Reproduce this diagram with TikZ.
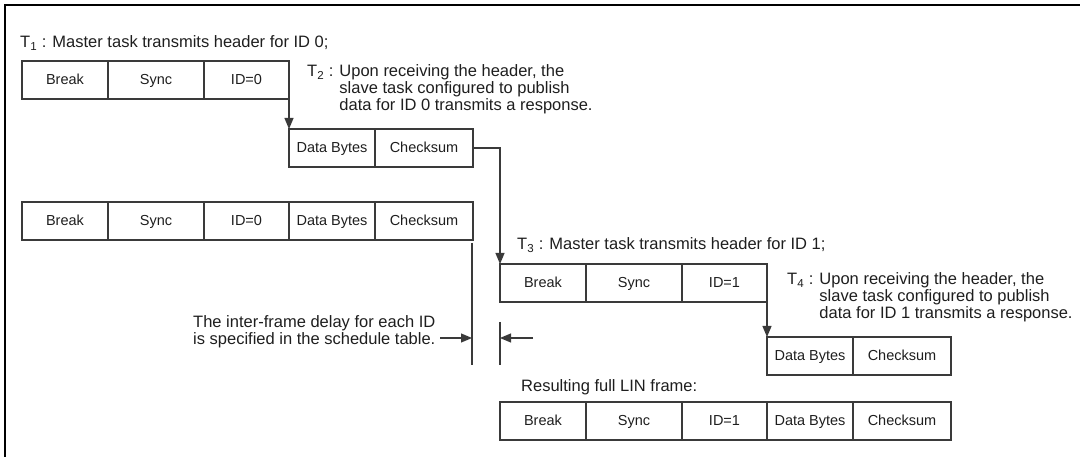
\documentclass[tikz,border=0pt]{standalone}
\usepackage{fontspec}
\setmainfont{Liberation Sans}
\usetikzlibrary{arrows.meta,positioning}
\definecolor{cizgi}{HTML}{3A3A3A}
\definecolor{yazi}{HTML}{1E1E1E}
\newcommand{\buyukYazi}{\fontsize{16.5}{16}\selectfont}
\newcommand{\kucukYazi}{\fontsize{14.5}{15}\selectfont}

\begin{document}
\begin{tikzpicture}[x=1pt,y=-1pt,
  alan/.style={draw=cizgi,line width=1.2pt,minimum height=38pt,inner sep=0pt,outer sep=0pt,
    text height=10.5pt,text depth=2pt,anchor=north west,font=\kucukYazi,text=yazi},
  aciklama/.style={anchor=base west,inner sep=0pt,font=\buyukYazi,text=yazi},
  ok/.style={draw=cizgi,line width=1.2pt,-{Triangle[length=11pt,width=9pt]}}]
\useasboundingbox (0,0) rectangle (1080,457);
% cerceve
\draw[line width=2.4pt] (5,457) -- (5,5) -- (1080,5);
% ID 0 baslik
\node[aciklama] (t1) at (20,48) {T\textsubscript{1} : Master task transmits header for ID 0;};
\node[alan,minimum width=86pt] (brk0) at (22,61) {Break};
\node[alan,minimum width=96pt,right=0pt of brk0] (syn0) {Sync};
\node[alan,minimum width=85pt,right=0pt of syn0] (id0) {ID=0};
\node[aciklama] (t2) at (307,77) {\begin{tabular}[t]{@{}l@{ }l@{}}
  T\textsubscript{2} : & Upon receiving the header, the\\
  & slave task configured to publish\\
  & data for ID 0 transmits a response.
\end{tabular}};
% ID 0 cevap
\node[alan,minimum width=86pt] (dat0) at (289,129) {Data Bytes};
\node[alan,minimum width=98pt,right=0pt of dat0] (chk0) {Checksum};
\draw[ok] (id0.south east) -- (dat0.north west);
% ID 0 tam cerceve
\node[alan,minimum width=86pt] (brk1) at (22,202) {Break};
\node[alan,minimum width=96pt,right=0pt of brk1] (syn1) {Sync};
\node[alan,minimum width=85pt,right=0pt of syn1] (id1) {ID=0};
\node[alan,minimum width=86pt,right=0pt of id1] (dat1) {Data Bytes};
\node[alan,minimum width=98pt,right=0pt of dat1] (chk1) {Checksum};
% ID 1 baslik
\node[aciklama] (t3) at (517,250) {T\textsubscript{3} : Master task transmits header for ID 1;};
\node[alan,minimum width=86pt] (brk2) at (500,264) {Break};
\node[alan,minimum width=96pt,right=0pt of brk2] (syn2) {Sync};
\node[alan,minimum width=85pt,right=0pt of syn2] (id2) {ID=1};
\draw[ok] (chk0.east) -| (brk2.north west);
\node[aciklama] (t4) at (787,285) {\begin{tabular}[t]{@{}l@{ }l@{}}
  T\textsubscript{4} : & Upon receiving the header, the\\
  & slave task configured to publish\\
  & data for ID 1 transmits a response.
\end{tabular}};
% ID 1 cevap
\node[alan,minimum width=86pt] (dat2) at (767,337) {Data Bytes};
\node[alan,minimum width=98pt,right=0pt of dat2] (chk2) {Checksum};
\draw[ok] (id2.south east) -- (dat2.north west);
% cerceveler arasi bekleme
\coordinate (s1) at (472,243);
\coordinate (s1b) at (472,365);
\coordinate (s2) at (500,322);
\coordinate (s2b) at (500,365);
\draw[cizgi,line width=1.2pt] (s1) -- (s1b);
\draw[cizgi,line width=1.2pt] (s2) -- (s2b);
\node[aciklama] (bekle) at (193,328) {\begin{tabular}[t]{@{}l@{}}
  The inter-frame delay for each ID\\
  is specified in the schedule table.
\end{tabular}};
\coordinate (a1) at (440,338);
\coordinate (a2) at (533,338);
\draw[ok] (a1) -- (a1 -| s1);
\draw[ok] (a2) -- (a2 -| s2);
% ID 1 tam cerceve
\node[aciklama] (sonuc) at (521,391) {Resulting full LIN frame:};
\node[alan,minimum width=86pt] (brk3) at (500,402) {Break};
\node[alan,minimum width=96pt,right=0pt of brk3] (syn3) {Sync};
\node[alan,minimum width=85pt,right=0pt of syn3] (id3) {ID=1};
\node[alan,minimum width=86pt,right=0pt of id3] (dat3) {Data Bytes};
\node[alan,minimum width=98pt,right=0pt of dat3] (chk3) {Checksum};
\end{tikzpicture}
\end{document}
